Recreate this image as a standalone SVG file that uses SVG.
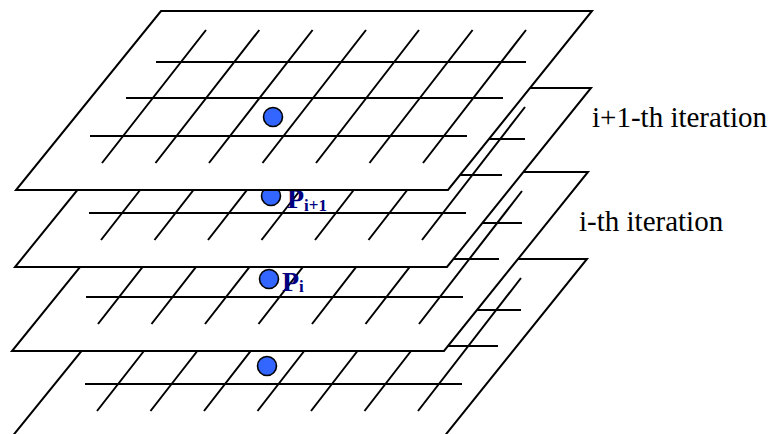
<svg xmlns="http://www.w3.org/2000/svg" xmlns:xlink="http://www.w3.org/1999/xlink" width="769" height="434" viewBox="0 0 769 434">
<style>
.pl{fill:#fff;stroke:#000;stroke-width:2;stroke-linejoin:miter}
.gl{fill:none;stroke:#000;stroke-width:2}
.dot{fill:#3366ff;stroke:#000;stroke-width:1.6}
.p{font-family:"Liberation Serif","Times New Roman",serif;font-weight:bold;font-size:28px;fill:#000080}
.sub{font-size:17px}
.lbl{font-family:"Liberation Serif","Times New Roman",serif;font-size:29px;fill:#000}
</style>
<defs>
<g id="plane">
<polygon class="pl" points="161,11 592,11 448,190 16,190"/>
<path class="gl" d="M156,62H526M126,98H503M90,136H467M206,30L102,163M259.3,30L155.5,163M312.6,30L209,163M366,30L262.5,163M419,30L316,163M472.6,30L369.5,163M526,30L423,163"/>
</g>
</defs>
<rect width="769" height="434" fill="#fff"/>
<g id="plane4">
<use href="#plane" xlink:href="#plane" transform="translate(-5,248)"/>
<circle class="dot" cx="267" cy="366" r="9.5"/>
</g>
<g id="plane3">
<use href="#plane" xlink:href="#plane" transform="translate(-4,161)"/>
<circle class="dot" cx="269" cy="279" r="9.5"/>
<text class="p" x="282" y="291">P<tspan class="sub" dy="1">i</tspan></text>
</g>
<g id="plane2">
<use href="#plane" xlink:href="#plane" transform="translate(-1,77)"/>
<circle class="dot" cx="271" cy="196" r="9.5"/>
<text class="p" x="287" y="208">P<tspan class="sub" dy="3">i+1</tspan></text>
</g>
<g id="plane1">
<use href="#plane" xlink:href="#plane"/>
<circle class="dot" cx="273" cy="117" r="9.5"/>
</g>
<g id="labels">
<text class="lbl" x="592" y="127">i+1-th iteration</text>
<text class="lbl" x="579" y="231">i-th iteration</text>
</g>
<g id="connectors"/>
</svg>
